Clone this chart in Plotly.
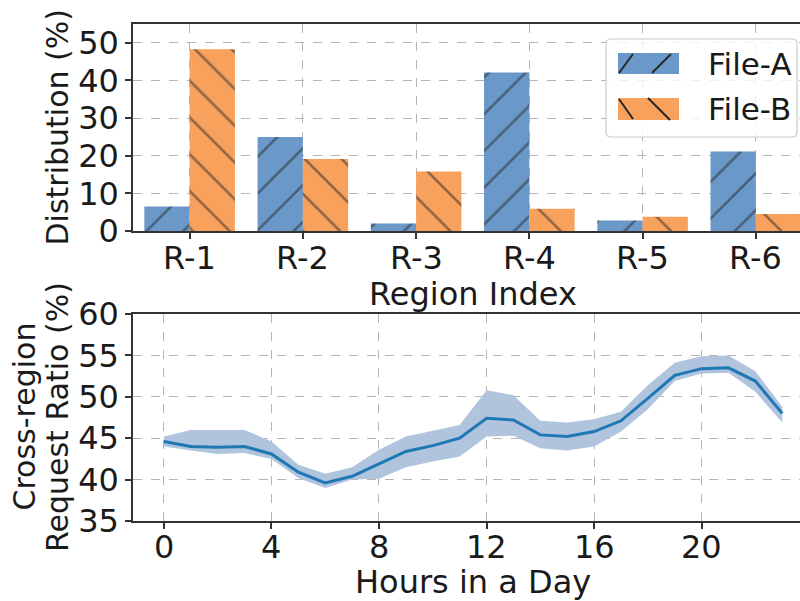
import plotly.graph_objects as go

# ---- data ----
regions = ["R-1", "R-2", "R-3", "R-4", "R-5", "R-6"]
file_a = [6.5, 25.0, 2.0, 42.1, 2.8, 21.1]
file_b = [48.3, 19.1, 15.8, 5.9, 3.8, 4.5]

hours = list(range(24))
hour_ticks = [0, 4, 8, 12, 16, 20]
ratio_mean = [44.6, 44.0, 43.9, 44.0, 43.1, 40.9, 39.6, 40.4, 41.9, 43.4, 44.1, 45.0,
              47.4, 47.2, 45.4, 45.2, 45.8, 47.1, 49.8, 52.6, 53.4, 53.5, 51.9, 48.0]
ratio_upper = [45.2, 46.0, 46.0, 46.0, 44.6, 41.8, 40.7, 41.5, 43.6, 45.2, 45.9, 46.6,
               50.8, 50.2, 47.1, 46.9, 47.3, 48.2, 51.4, 54.1, 54.9, 55.0, 53.1, 48.8]
ratio_lower = [44.0, 43.5, 43.1, 43.2, 42.5, 40.2, 39.0, 40.0, 40.1, 41.5, 42.2, 42.8,
               45.2, 45.3, 43.8, 43.5, 44.0, 45.8, 48.5, 51.9, 52.8, 52.9, 50.6, 46.9]

# ---- style ----
W, H = 800, 601
ML, MR, MT, MB = 133, 0, 24, 80
FONT = "DejaVu Sans"
TXT = "#1a1a1a"
AX = "#333333"
GRID = "#b5b5b5"
BLUE = "#6a98c9"
ORANGE = "#f8a15c"
HATCH = "#262626"
FS_H = 32   # horizontal text
FS_V = 30   # rotated text


def fx(px):
    return (px - ML) / (W - ML - MR)


def fy(py):
    return (H - MB - py) / (H - MT - MB)


fig = go.Figure()

fig.add_trace(go.Bar(
    x=list(range(len(regions))), y=file_a, name="File-A", offset=-0.4, width=0.4,
    marker=dict(color=BLUE, line=dict(width=0),
                pattern=dict(shape="/", fgcolor=HATCH, size=26, solidity=0.1)),
    xaxis="x", yaxis="y", showlegend=False))
fig.add_trace(go.Bar(
    x=list(range(len(regions))), y=file_b, name="File-B", offset=0.0, width=0.4,
    marker=dict(color=ORANGE, line=dict(width=0),
                pattern=dict(shape="\\", fgcolor=HATCH, size=26, solidity=0.1)),
    xaxis="x", yaxis="y", showlegend=False))

# spread band then the mean line
fig.add_trace(go.Scatter(x=hours, y=ratio_lower, mode="lines", line=dict(width=0),
                         hoverinfo="skip", showlegend=False, xaxis="x2", yaxis="y2"))
fig.add_trace(go.Scatter(x=hours, y=ratio_upper, mode="lines", line=dict(width=0),
                         fill="tonexty", fillcolor="#b0c4de",
                         hoverinfo="skip", showlegend=False, xaxis="x2", yaxis="y2"))
fig.add_trace(go.Scatter(x=hours, y=ratio_mean, mode="lines",
                         line=dict(color="#1f77b4", width=3),
                         showlegend=False, xaxis="x2", yaxis="y2"))

axis_common = dict(
    showline=True, linecolor=AX, linewidth=1.5,
    ticks="outside", ticklen=6, tickwidth=1.5, tickcolor=AX,
    showgrid=True, gridcolor=GRID, gridwidth=1.2, griddash="dash",
    zeroline=False, tickfont=dict(family=FONT, size=FS_H, color=TXT),
)

top_lo = fy(231)
bot_hi = fy(314)

fig.update_layout(
    width=W, height=H,
    margin=dict(l=ML, r=MR, t=MT, b=MB),
    paper_bgcolor="white", plot_bgcolor="white",
    barmode="overlay",
    font=dict(family=FONT, size=FS_H, color=TXT),
    xaxis=dict(axis_common, domain=[0, 1], anchor="y", mirror=True,
               range=[-0.5, 5.39], tickmode="array", showticklabels=False,
               tickvals=list(range(len(regions)))),
    yaxis=dict(axis_common, domain=[top_lo, 1], anchor="x",
               range=[0, 55], tickvals=[0, 10, 20, 30, 40, 50]),
    xaxis2=dict(axis_common, domain=[0, 1], anchor="y2", mirror=True,
                range=[-1.15, 23.66], tickvals=hour_ticks, showticklabels=False),
    yaxis2=dict(axis_common, domain=[0, bot_hi], anchor="x2",
                range=[35, 60], tickvals=[35, 40, 45, 50, 55, 60]),
)

# category / hour labels placed on the data scale of each x axis
for i, name in enumerate(regions):
    fig.add_annotation(text=name, x=i, xref="x", y=fy(258), yref="paper",
                       xanchor="center", yanchor="middle", showarrow=False,
                       font=dict(family=FONT, size=FS_H, color=TXT))
for h in hour_ticks:
    fig.add_annotation(text=str(h), x=h, xref="x2", y=fy(546.5), yref="paper",
                       xanchor="center", yanchor="middle", showarrow=False,
                       font=dict(family=FONT, size=FS_H, color=TXT))

# axis titles
titles = [
    ("Distribution (%)", 57, 127.5, -90, FS_V),
    ("Cross-region", 23.5, 417, -90, FS_V),
    ("Request Ratio (%)", 57, 417, -90, FS_V),
    ("Region Index", 473, 294, 0, FS_H),
    ("Hours in a Day", 473, 582, 0, FS_H),
]
for text, px, py, ang, fs in titles:
    fig.add_annotation(text=text, x=fx(px), y=fy(py), xref="paper", yref="paper",
                       xanchor="center", yanchor="middle", textangle=ang,
                       showarrow=False, font=dict(family=FONT, size=fs, color=TXT))

# legend box
x0, x1, y0, y1, r = fx(606), fx(797), fy(39), fy(137), 5
rx, ry = r / (W - ML - MR), r / (H - MT - MB)
path = (f"M{x0 + rx},{y0} L{x1 - rx},{y0} Q{x1},{y0} {x1},{y0 - ry} "
        f"L{x1},{y1 + ry} Q{x1},{y1} {x1 - rx},{y1} L{x0 + rx},{y1} "
        f"Q{x0},{y1} {x0},{y1 + ry} L{x0},{y0 - ry} Q{x0},{y0} {x0 + rx},{y0} Z")
fig.add_shape(type="path", path=path, xref="paper", yref="paper",
              fillcolor="rgba(255,255,255,0.8)", line=dict(color="#cccccc", width=1.2))

legend_items = [
    ("File-A", BLUE, 53, 74, [((619, 73), (633, 54)), ((652, 73), (671, 54))]),
    ("File-B", ORANGE, 98, 120, [((619, 99), (633, 119)), ((648, 98), (670, 120))]),
]
for label, col, ty, by, lines in legend_items:
    fig.add_shape(type="rect", xref="paper", yref="paper",
                  x0=fx(618), x1=fx(679), y0=fy(by), y1=fy(ty),
                  fillcolor=col, line=dict(width=0))
    for (ax_, ay_), (bx_, by_) in lines:
        fig.add_shape(type="line", xref="paper", yref="paper",
                      x0=fx(ax_), y0=fy(ay_), x1=fx(bx_), y1=fy(by_),
                      line=dict(color=HATCH, width=2))
    fig.add_annotation(text=label, x=fx(706), y=fy((ty + by) / 2), xref="paper",
                       yref="paper", xanchor="left", yanchor="middle", showarrow=False,
                       font=dict(family=FONT, size=31, color=TXT))

fig.write_html("out.html")
